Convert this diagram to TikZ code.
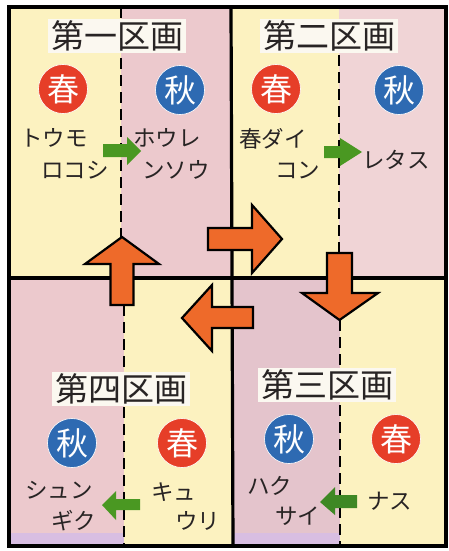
\documentclass[tikz,border=0pt]{standalone}
\usepackage{fontspec}
\setmainfont{Noto Sans CJK JP}
\definecolor{cream}{RGB}{252,242,192}
\definecolor{pinkA}{RGB}{236,201,205}
\definecolor{pinkB}{RGB}{240,212,214}
\definecolor{pinkC}{RGB}{228,196,204}
\definecolor{lav}{RGB}{216,190,226}
\definecolor{titlebg}{RGB}{251,248,240}
\definecolor{springred}{RGB}{230,62,40}
\definecolor{autumnblue}{RGB}{46,106,178}
\definecolor{orangeA}{RGB}{238,106,42}
\definecolor{greenA}{RGB}{74,152,34}
\definecolor{greenB}{RGB}{62,136,36}
\definecolor{textc}{RGB}{40,36,36}
\tikzset{
  titlebox/.style={fill=titlebg, inner xsep=3pt, inner ysep=2pt, text=textc, font=\fontsize{33}{33}\selectfont},
  spring/.style={circle, fill=springred, draw=white, line width=0.6pt, minimum size=49pt, inner sep=0pt, text=white, font=\fontsize{32}{32}\selectfont},
  autumn/.style={circle, fill=autumnblue, draw=white, line width=0.6pt, minimum size=49pt, inner sep=0pt, text=white, font=\fontsize{32}{32}\selectfont},
  veg/.style={anchor=west, inner sep=0pt, text=textc, font=\fontsize{22.5}{22.5}\selectfont},
  bigarrow/.style={fill=orangeA, draw=black, line width=2.2pt, line join=miter},
  smallarrow/.style={fill=greenA},
  divline/.style={draw=black, line width=3.2pt},
  dashline/.style={draw=black, line width=2.8pt, dash pattern=on 11pt off 6pt}
}
\begin{document}
\begin{tikzpicture}[x=1pt,y=-1pt]
\useasboundingbox (0,0) rectangle (448,551);
\fill[white] (0,0) rectangle (448,551);
% backgrounds
\fill[cream] (9,7) rectangle (121,278);
\fill[pinkA] (121,7) rectangle (232,278);
\fill[cream] (232,7) rectangle (339,278);
\fill[pinkB] (339,7) rectangle (446,278);
\fill[pinkA] (9,278) rectangle (124,546);
\fill[cream] (124,278) rectangle (232,546);
\fill[pinkC] (232,278) rectangle (340,546);
\fill[cream] (340,278) rectangle (446,546);
\fill[lav] (9,533) rectangle (124,546);
\fill[lav] (234,533) rectangle (340,546);
% dashed lines
\coordinate (d1a) at (121,7);   \coordinate (d1b) at (121,237);
\coordinate (d2a) at (339,55);  \coordinate (d2b) at (339,253);
\coordinate (d4a) at (124,305); \coordinate (d4b) at (124,545);
\coordinate (d3a) at (340,320); \coordinate (d3b) at (340,545);
\draw[dashline] (d1a) -- (d1b);
\draw[dashline] (d2a) -- (d2b);
\draw[dashline] (d4a) -- (d4b);
\draw[dashline] (d3a) -- (d3b);
% dividers and border
\coordinate (vt) at (231,7); \coordinate (vm) at (232,278); \coordinate (vb) at (233,546);
\coordinate (hl) at (9,278); \coordinate (hr) at (446,278);
\draw[divline] (vt) -- (vm) -- (vb);
\draw[divline] (hl) -- (hr);
\draw[black, line width=3.2pt] (9,7) rectangle (446,546);
% titles
\node[titlebox] (t1) at (117,36) {第一区画};
\node[titlebox] (t2) at (329,36) {第二区画};
\node[titlebox] (t4) at (121,389) {第四区画};
\node[titlebox] (t3) at (327,385) {第三区画};
% circles
\node[spring] (s1) at (63,89) {春};
\node[autumn] (a1) at (180,90) {秋};
\node[spring] (s2) at (276,89) {春};
\node[autumn] (a2) at (399,90) {秋};
\node[autumn] (a4) at (72,443) {秋};
\node[spring] (s4) at (182,443) {春};
\node[autumn] (a3) at (289,439) {秋};
\node[spring] (s3) at (396,439) {春};
% vegetables
\node[veg] (v1a) at (20,138) {トウモ};
\node[veg] (v1b) at (41,170) {ロコシ};
\node[veg] (v1c) at (133,138) {ホウレ};
\node[veg] (v1d) at (142,170) {ンソウ};
\node[veg] (v2a) at (239,139) {春ダイ};
\node[veg] (v2b) at (275,170) {コン};
\node[veg] (v2c) at (362,160) {レタス};
\node[veg] (v4a) at (25,490) {シュン};
\node[veg] (v4b) at (51,521) {ギク};
\node[veg] (v4c) at (151,492) {キュ};
\node[veg] (v4d) at (175,521) {ウリ};
\node[veg] (v3a) at (247,486) {ハク};
\node[veg] (v3b) at (275,516) {サイ};
\node[veg] (v3c) at (367,501) {ナス};
% green arrows
\fill[smallarrow] (103,144) -- (127,144) -- (127,137) -- (141,151) -- (127,165) -- (127,157) -- (103,157) -- cycle;
\fill[smallarrow] (324,146) -- (340,146) -- (340,138) -- (362,152) -- (340,166) -- (340,158) -- (324,158) -- cycle;
\fill[smallarrow] (140,499) -- (116,499) -- (116,491) -- (102,505) -- (116,520) -- (116,510) -- (140,510) -- cycle;
\fill[greenB] (357,495) -- (335,495) -- (335,487) -- (320,502) -- (335,515) -- (335,508) -- (357,508) -- cycle;
% orange arrows
\draw[bigarrow] (110.5,305) -- (110.5,264) -- (85,264) -- (122,237) -- (159,264) -- (133.5,264) -- (133.5,305) -- cycle;
\draw[bigarrow] (208,228) -- (252,228) -- (252,205) -- (282,239) -- (252,273) -- (252,250) -- (208,250) -- cycle;
\draw[bigarrow] (327,253) -- (352,253) -- (352,293) -- (378,293) -- (339.5,320) -- (302,293) -- (327,293) -- cycle;
\draw[bigarrow] (253,307) -- (212,307) -- (212,285) -- (182,318) -- (212,351) -- (212,328) -- (253,328) -- cycle;
\end{tikzpicture}
\end{document}
